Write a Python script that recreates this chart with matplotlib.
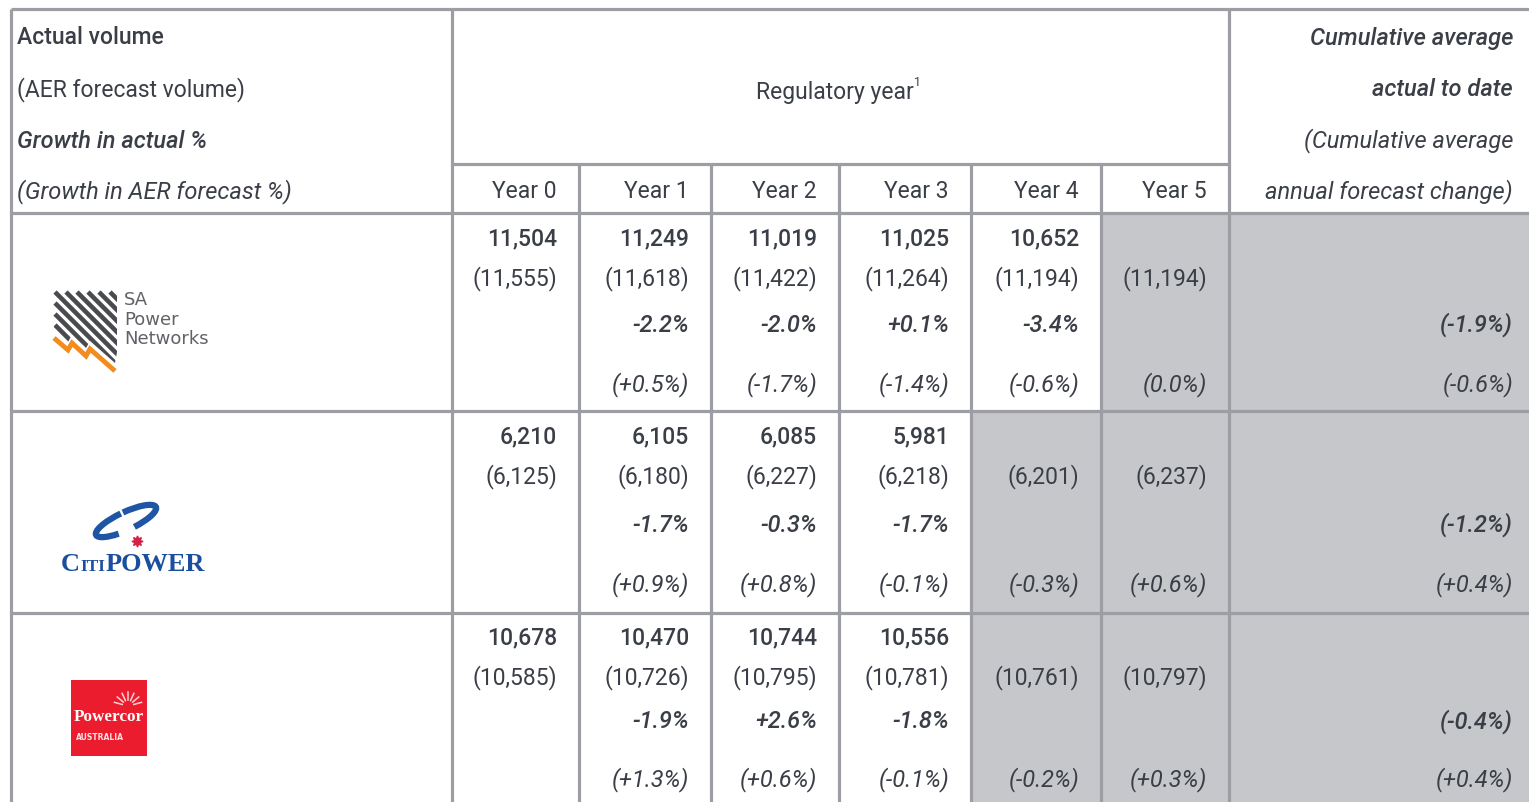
import math
import matplotlib
matplotlib.use("Agg")
import matplotlib.pyplot as plt
import matplotlib.patches as mpatches
from matplotlib import font_manager

# ---- data ----
years = ["Year 0", "Year 1", "Year 2", "Year 3", "Year 4", "Year 5"]
networks = ["SA Power Networks", "CitiPower", "Powercor"]

actual = [[11504, 11249, 11019, 11025, 10652, None],
          [6210, 6105, 6085, 5981, None, None],
          [10678, 10470, 10744, 10556, None, None]]
forecast = [[11555, 11618, 11422, 11264, 11194, 11194],
            [6125, 6180, 6227, 6218, 6201, 6237],
            [10585, 10726, 10795, 10781, 10761, 10797]]
growth_actual = [[None, -2.2, -2.0, 0.1, -3.4, None],
                 [None, -1.7, -0.3, -1.7, None, None],
                 [None, -1.9, 2.6, -1.8, None, None]]
growth_fc = [[None, 0.5, -1.7, -1.4, -0.6, 0.0],
             [None, 0.9, 0.8, -0.1, -0.3, 0.6],
             [None, 1.3, 0.6, -0.1, -0.2, 0.3]]
cum_actual = [-1.9, -1.2, -0.4]
cum_fc = [-0.6, 0.4, 0.4]

# ---- style ----
names = {f.name for f in font_manager.fontManager.ttflist}
if "Liberation Sans Narrow" in names:
    FAM = ["Liberation Sans Narrow", "DejaVu Sans"]
else:
    FAM = ["Roboto", "DejaVu Sans"]
plt.rcParams["font.family"] = FAM

TXT = "#3a3e46"
LINE = "#9d9ea4"
GREY = "#c6c7cb"
FS = 16.5
FSI = 17
LW = 2.3
BOLD = "medium"


def pct(v, paren=False):
    s = "0.0%" if v == 0 else f"{v:+.1f}%"
    return f"({s})" if paren else s


fig = plt.figure(figsize=(15.29, 8.02), dpi=100)
ax = fig.add_axes([0, 0, 1, 1])
ax.set_xlim(0, 1529)
ax.set_ylim(802, 0)
ax.axis("off")

col_x = [11, 452, 579, 711, 839, 971, 1101, 1229, 1529]
row_top = [213, 411, 613, 802]
line_off = [[26, 66, 112, 172], [26, 66, 114, 174], [25, 65, 109, 167]]


def txt(x, y, s, ha="right", weight="normal", style="normal", size=None, color=TXT, **kw):
    if size is None:
        size = FSI if style == "italic" else FS
    ax.text(x, y, s, ha=ha, va="center", fontsize=size, fontweight=weight,
            fontstyle=style, color=color, **kw)


# grey shading for empty actual cells and the cumulative column
for r in range(3):
    y0, y1 = row_top[r], row_top[r + 1]
    for c in range(6):
        if actual[r][c] is None:
            ax.add_patch(mpatches.Rectangle((col_x[c + 1], y0), col_x[c + 2] - col_x[c + 1],
                                            y1 - y0, color=GREY, lw=0, zorder=0))
    ax.add_patch(mpatches.Rectangle((col_x[7], y0), col_x[8] - col_x[7], y1 - y0,
                                    color=GREY, lw=0, zorder=0))

# grid lines
for y in [9, 213, 411, 613]:
    ax.plot([11, 1529], [y, y], color=LINE, lw=LW, solid_capstyle="butt")
ax.plot([452, 1229], [164, 164], color=LINE, lw=LW, solid_capstyle="butt")
for x in [11, 452, 1229]:
    ax.plot([x, x], [9, 802], color=LINE, lw=LW, solid_capstyle="butt")
for x in col_x[2:7]:
    ax.plot([x, x], [164, 802], color=LINE, lw=LW, solid_capstyle="butt")

# header
txt(17, 38, "Actual volume", ha="left", weight=BOLD)
txt(17, 90, "(AER forecast volume)", ha="left")
txt(17, 141, "Growth in actual %", ha="left", weight=BOLD, style="italic")
txt(17, 192, "(Growth in AER forecast %)", ha="left", style="italic")
txt(835, 92, "Regulatory year", ha="center")
txt(914, 82, "1", ha="left", size=9)
txt(1513, 38, "Cumulative average", weight=BOLD, style="italic")
txt(1513, 90, "actual to date", weight=BOLD, style="italic")
txt(1513, 141, "(Cumulative average", style="italic")
txt(1513, 192, "annual forecast change)", style="italic")
for c, yl in enumerate(years):
    txt(col_x[c + 2] - 22, 192, yl)

# body
for r in range(3):
    ys = [row_top[r] + o for o in line_off[r]]
    for c in range(6):
        xr = col_x[c + 2] - 22
        if actual[r][c] is not None:
            txt(xr, ys[0], f"{actual[r][c]:,}", weight=BOLD)
        txt(xr, ys[1], f"({forecast[r][c]:,})")
        if growth_actual[r][c] is not None:
            txt(xr, ys[2], pct(growth_actual[r][c]), weight=BOLD, style="italic")
        if growth_fc[r][c] is not None:
            txt(xr, ys[3], pct(growth_fc[r][c], True), style="italic")
    txt(1513, ys[2], pct(cum_actual[r], True), weight=BOLD, style="italic")
    txt(1513, ys[3], pct(cum_fc[r], True), style="italic")

# ---- logos ----
# SA Power Networks
zig = [(54, 338), (68, 350), (72, 343), (86, 356), (90, 349), (115, 371)]
clip = mpatches.Polygon([(51, 289), (117, 289), (117, 352)] +
                        [(x, y - 8) for x, y in reversed(zig)],
                        closed=True, transform=ax.transData, fill=False, lw=0)
ax.add_patch(clip)
starts = [(55 + i * 11, 292) for i in range(6)] + [(55, 303 + i * 11) for i in range(5)]
for x0, y0 in starts:
    ln, = ax.plot([x0, x0 + 80], [y0, y0 + 80], color="#4a4b4f", lw=3.3,
                  solid_capstyle="butt")
    ln.set_clip_path(clip)
ax.plot([p[0] for p in zig], [p[1] for p in zig], color="#f28c1e", lw=3.5,
        solid_capstyle="butt", solid_joinstyle="miter")
for s, yy in zip(["SA", "Power", "Networks"], [300, 320, 339]):
    ax.text(124, yy, s, ha="left", va="center", fontsize=13, color="#606267",
            family=["DejaVu Sans"])

# CitiPower
ell = dict(width=66, height=18, angle=-25, lw=4.5, color="#1f55a3")
ax.add_patch(mpatches.Arc((126, 521), theta1=145, theta2=260, **ell))
ax.add_patch(mpatches.Arc((126, 521), theta1=275, theta2=420, **ell))
serif = ["Liberation Serif", "DejaVu Serif"]
ax.text(61, 571, "C", ha="left", va="baseline", fontsize=19, fontweight="bold",
        family=serif, color="#1a4e9e")
ax.text(80, 571, "ITI", ha="left", va="baseline", fontsize=12.5, fontweight="bold",
        family=serif, color="#1a4e9e")
ax.text(106, 571, "POWER", ha="left", va="baseline", fontsize=19, fontweight="bold",
        family=serif, color="#1a4e9e")
ax.plot([137], [541], marker=(8, 1, 0), ms=8, color="#d3234a")

# Powercor
ax.add_patch(mpatches.Rectangle((71, 680), 76, 76, color="#ea1c2d", lw=0))
for a in range(7):
    ang = math.radians(15 + a * 25)
    ax.plot([128 + 6 * math.cos(ang), 128 + 14 * math.cos(ang)],
            [706 - 6 * math.sin(ang), 706 - 14 * math.sin(ang)], color="#fbd3d5", lw=1.1)
ax.text(109, 717, "Powercor", ha="center", va="center", fontsize=12.3, fontweight="bold",
        family=serif, color="white")
ax.text(76, 738, "AUSTRALIA", ha="left", va="center", fontsize=5.5, fontweight="bold",
        color="#fde3e4", family=["DejaVu Sans"])

fig.savefig("out.png", dpi=100)
